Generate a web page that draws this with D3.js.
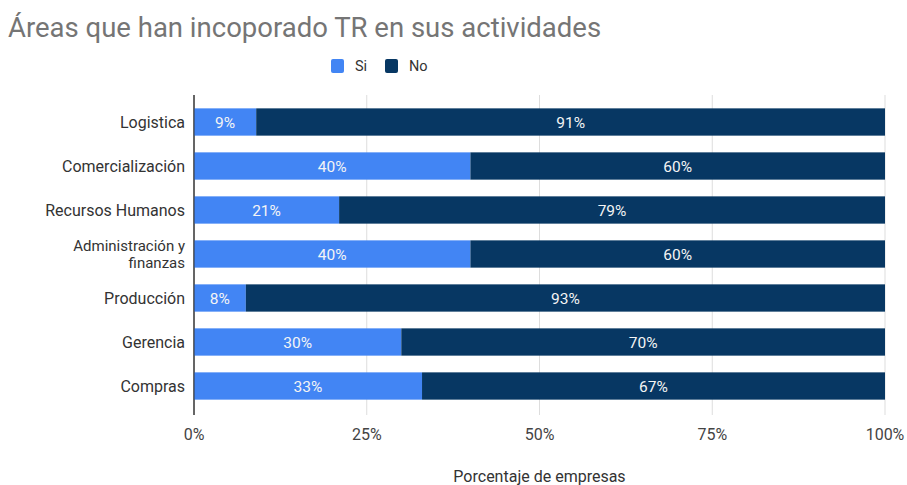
<!DOCTYPE html>
<html><head><meta charset="utf-8">
<script src="https://cdn.jsdelivr.net/npm/d3@7"></script>
<style>body{margin:0;background:#fff;font-family:Roboto,Arial,sans-serif}</style>
</head><body><svg id="c" width="907" height="485"></svg>
<script>
const categories = ["Logistica","Comercialización","Recursos Humanos","Administración y\nfinanzas","Producción","Gerencia","Compras"];
const siValues = [9,40,21,40,7.5,30,33];
const noValues = [91,60,79,60,92.5,70,67];
const seriesNames = ["Si","No"];
const xTicks = [0,25,50,75,100];
const colors = ["#4285f4","#073763"];

const svg = d3.select("#c");
const m = {l:194, r:885, t:100, b:408};
const x = d3.scaleLinear().domain([0,100]).range([m.l,m.r]);
const y = d3.scaleBand().domain(categories).range([m.t,m.b]).paddingInner(0.38).paddingOuter(0.19);

svg.append("text").attr("x",8).attr("y",37).attr("font-size",27.5).attr("fill","#757575")
  .text("Áreas que han incoporado TR en sus actividades");

// grid
svg.append("g").selectAll("line").data(xTicks).join("line")
  .attr("x1",d=>x(d)).attr("x2",d=>x(d)).attr("y1",95).attr("y2",415)
  .attr("stroke",d=>d===0?"#333":"#ddd").attr("stroke-width",1);

const stackData = categories.map((c,i)=>({cat:c, Si:siValues[i], No:noValues[i]}));
const stacked = d3.stack().keys(seriesNames)(stackData);
const g = svg.append("g");
stacked.forEach((s,si)=>{
  g.append("g").selectAll("rect").data(s).join("rect")
    .attr("x",d=>x(d[0])).attr("width",d=>x(d[1])-x(d[0]))
    .attr("y",d=>y(d.data.cat)).attr("height",y.bandwidth())
    .attr("fill",colors[si]);
  g.append("g").selectAll("text").data(s).join("text")
    .attr("x",d=>(x(d[0])+x(d[1]))/2).attr("y",d=>y(d.data.cat)+y.bandwidth()/2+5.5)
    .attr("text-anchor","middle").attr("fill","#f4f4f4").attr("font-size",15.5)
    .text(d=>Math.round(d[1]-d[0])+"%");
});
svg.append("line").attr("x1",x(0)).attr("x2",x(0)).attr("y1",95).attr("y2",415).attr("stroke","#333");

// y labels
categories.forEach(c=>{
  const lines = c.split("\n");
  const cy = y(c)+y.bandwidth()/2;
  lines.forEach((ln,k)=>{
    svg.append("text").attr("text-anchor","end").attr("font-size",lines.length>1?15:16).attr("fill","#333")
      .attr("x",185).attr("y",cy+5.5+(k-(lines.length-1)/2)*17.5).text(ln);
  });
});

// x tick labels
svg.append("g").selectAll("text").data(xTicks).join("text")
  .attr("x",d=>x(d)).attr("y",440).attr("text-anchor","middle").attr("font-size",16).attr("fill","#444")
  .text(d=>d+"%");
svg.append("text").attr("x",(m.l+m.r)/2).attr("y",482).attr("text-anchor","middle").attr("font-size",16).attr("fill","#333")
  .text("Porcentaje de empresas");

// legend
const lg = svg.append("g");
const lx = [331,385];
seriesNames.forEach((n,i)=>{
  lg.append("rect").attr("x",lx[i]).attr("y",59).attr("width",13).attr("height",14).attr("rx",2).attr("fill",colors[i]);
  lg.append("text").attr("x",lx[i]+24).attr("y",71).attr("font-size",14.5).attr("fill","#333").text(n);
});
</script></body></html>
